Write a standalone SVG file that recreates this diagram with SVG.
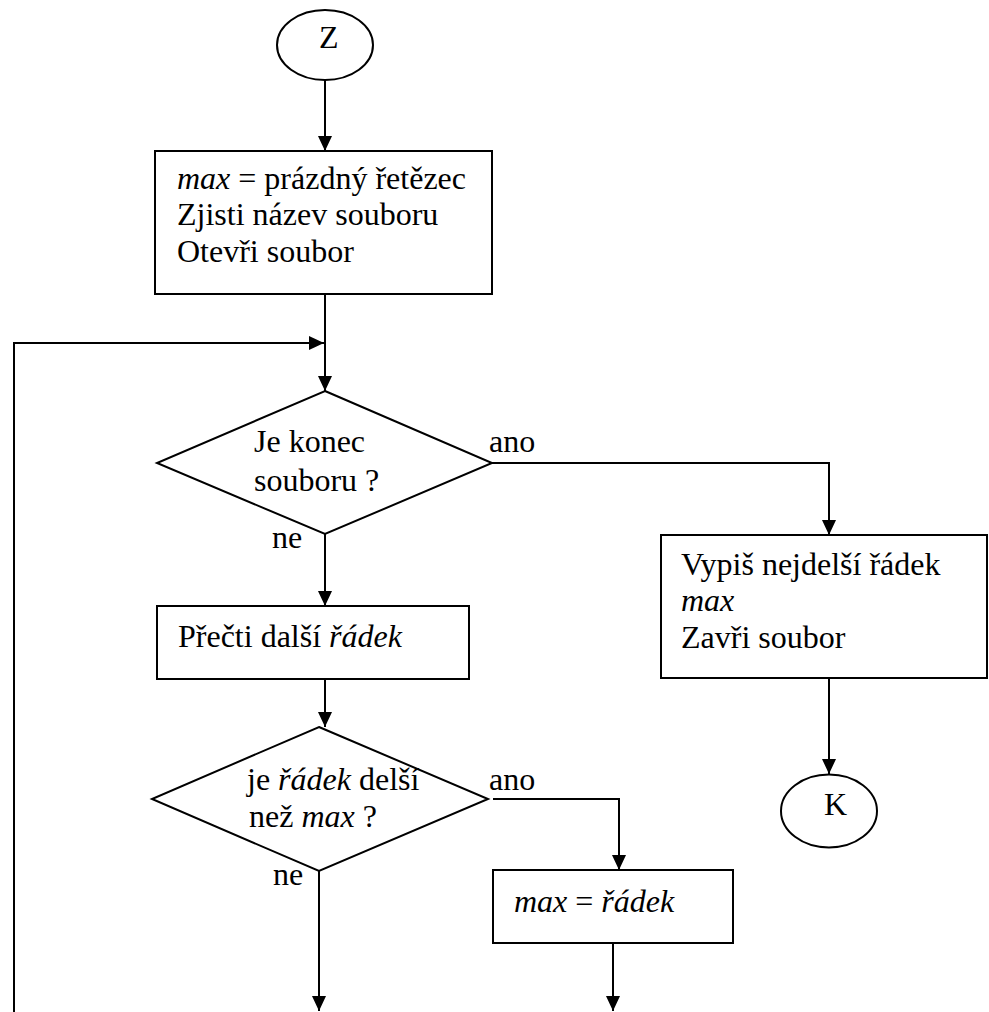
<svg xmlns="http://www.w3.org/2000/svg" width="989" height="1012" viewBox="0 0 989 1012">
<style>
.s{fill:#fff;stroke:#000;stroke-width:2}
.c{fill:none;stroke:#000;stroke-width:2}
text{font-family:"Liberation Serif","Times New Roman",serif;font-size:32px;fill:#000}
.i{font-style:italic}
</style>
<defs>
<marker id="a" markerUnits="userSpaceOnUse" markerWidth="16" markerHeight="14" refX="15" refY="7" orient="auto">
<path d="M0,0 L15,7 L0,14 Z" fill="#000"/>
</marker>
</defs>
<rect width="989" height="1012" fill="#fff"/>
<g id="connectors">
<path class="c" d="M325,80 L325,151" marker-end="url(#a)"/>
<path class="c" d="M325,294 L325,391" marker-end="url(#a)"/>
<path class="c" d="M14,1012 L14,343 L324,343" marker-end="url(#a)"/>
<path class="c" d="M492,463 L829,463 L829,535" marker-end="url(#a)"/>
<path class="c" d="M829,678 L829,774" marker-end="url(#a)"/>
<path class="c" d="M325,534 L325,606" marker-end="url(#a)"/>
<path class="c" d="M325,679 L325,727" marker-end="url(#a)"/>
<path class="c" d="M319,871 L319,1011" marker-end="url(#a)"/>
<path class="c" d="M493,799 L619,799 L619,870" marker-end="url(#a)"/>
<path class="c" d="M613,943 L613,1011" marker-end="url(#a)"/>
</g>
<g id="start">
<ellipse class="s" cx="325" cy="45" rx="48" ry="35"/>
<text x="319" y="48">Z</text>
</g>
<g id="init">
<rect class="s" x="155" y="151" width="337" height="143"/>
<text x="177" y="189"><tspan class="i">max</tspan> = prázdný řetězec</text>
<text x="177" y="225">Zjisti název souboru</text>
<text x="177" y="262">Otevři soubor</text>
</g>
<g id="eof">
<polygon class="s" points="325,391 492,463 325,534 157,463"/>
<text x="254" y="452">Je konec</text>
<text x="254" y="491">souboru ?</text>
<text x="489" y="452">ano</text>
<text x="272" y="548">ne</text>
</g>
<g id="output">
<rect class="s" x="661" y="535" width="326" height="143"/>
<text x="681" y="575">Vypiš nejdelší řádek</text>
<text x="681" y="611" class="i">max</text>
<text x="681" y="648">Zavři soubor</text>
</g>
<g id="end">
<ellipse class="s" cx="829" cy="811" rx="48" ry="36.5"/>
<text x="824" y="815">K</text>
</g>
<g id="read">
<rect class="s" x="157" y="606" width="312" height="73"/>
<text x="178" y="647">Přečti další <tspan class="i">řádek</tspan></text>
</g>
<g id="longer">
<polygon class="s" points="319,727 488,799 319,871 152,799"/>
<text x="247" y="790">je <tspan class="i">řádek</tspan> delší</text>
<text x="249" y="827">než <tspan class="i">max</tspan> ?</text>
<text x="489" y="790">ano</text>
<text x="273" y="885">ne</text>
</g>
<g id="assign">
<rect class="s" x="493" y="870" width="240" height="73"/>
<text x="514" y="912"><tspan class="i">max</tspan> = <tspan class="i">řádek</tspan></text>
</g>
</svg>
